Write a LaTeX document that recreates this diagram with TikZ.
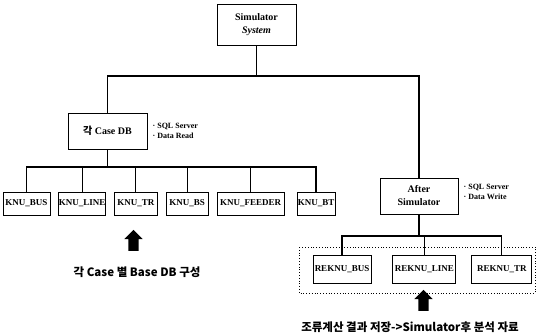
\documentclass[tikz,border=0pt]{standalone}
\usepackage{fontspec}
\setmainfont{Liberation Serif}
\newfontfamily\kr{Noto Sans CJK KR}
\usetikzlibrary{positioning,shapes.arrows}
\tikzset{
  box/.style={draw,line width=0.9pt,inner sep=0pt,align=center,font=\fontsize{10}{13}\selectfont\bfseries},
  knu/.style={box,minimum height=23pt,font=\fontsize{9}{11}\selectfont\bfseries},
  reknu/.style={box,minimum height=28pt,font=\fontsize{9}{11}\selectfont\bfseries},
  link/.style={line width=1.2pt},
  note/.style={inner sep=0pt,align=left,font=\fontsize{8}{10}\selectfont\bfseries},
  caption/.style={inner sep=0pt,font=\kr\bfseries\fontsize{11.5}{13}\selectfont},
  uparrow/.style={single arrow,fill=black,rotate=90,inner sep=5pt,minimum height=21pt,single arrow head extend=4pt}
}
\begin{document}
\begin{tikzpicture}[x=1pt,y=-1pt]
  \useasboundingbox (0,0) rectangle (537,335);
  \path (256.5,24.5) node[box,minimum width=79pt,minimum height=41pt] (sys) {Simulator\\\textit{System}};
  \path (107.5,131) node[box,minimum width=79pt,minimum height=36pt] (casedb) {{\kr 각} Case DB};
  \path node[note,right=5pt of casedb] (casenote) {· SQL Server\\· Data Read};
  \path (419,196) node[box,minimum width=78pt,minimum height=36pt] (after) {After\\Simulator};
  \path node[note,right=5pt of after,yshift=4pt] (afternote) {· SQL Server\\· Data Write};
  \path (26.5,203.5) node[knu,minimum width=47pt] (knubus) {KNU\_BUS};
  \path node[knu,minimum width=45pt,right=8pt of knubus] (knuline) {KNU\_LINE};
  \path node[knu,minimum width=43pt,right=8pt of knuline] (knutr) {KNU\_TR};
  \path node[knu,minimum width=42pt,right=8pt of knutr] (knubs) {KNU\_BS};
  \path node[knu,minimum width=67pt,right=8pt of knubs] (knufeeder) {KNU\_FEEDER};
  \path node[knu,minimum width=38pt,right=12pt of knufeeder] (knubt) {KNU\_BT};
  \path (342,269) node[reknu,minimum width=58pt] (reknubus) {REKNU\_BUS};
  \path node[reknu,minimum width=63pt,right=21pt of reknubus] (reknuline) {REKNU\_LINE};
  \path node[reknu,minimum width=60pt,right=15pt of reknuline] (reknutr) {REKNU\_TR};
  \coordinate (top) at (256.5,76);
  \coordinate (mid) at (107.5,167);
  \coordinate (low) at (419,236);
  \draw[link] (sys.south) -- (top);
  \draw[link] (casedb.north) |- (top) -| (after.north);
  \draw[link] (casedb.south) -- (mid);
  \foreach \n in {bus,line,tr,bs,feeder,bt}
    \draw[link] (mid) -| (knu\n.north);
  \draw[link] (after.south) -- (low);
  \foreach \n in {bus,line,tr}
    \draw[link] (low) -| (reknu\n.north);
  \draw[dotted,line width=0.8pt] (299,247) rectangle (535,293);
  \path (133.5,243) node[uparrow] (arrowdb) {};
  \path (423.5,303) node[uparrow] (arrowre) {};
  \path (137,272) node[caption] (capdb) {각 Case 별 Base DB 구성};
  \path (410,327) node[caption] (capre) {조류계산 결과 저장->Simulator후 분석 자료};
\end{tikzpicture}
\end{document}
